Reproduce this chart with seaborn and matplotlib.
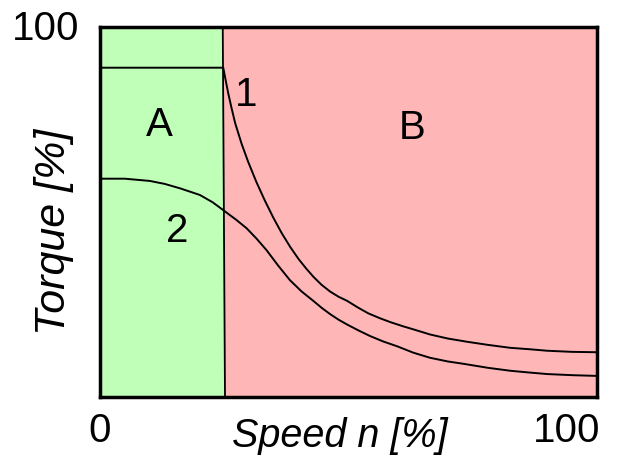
import matplotlib
matplotlib.use("Agg")
import matplotlib.pyplot as plt
import seaborn as sns
import pandas as pd

# Curve 1 (speed %, torque %)
speed_1 = [0, 10, 20, 24.8, 25.3, 25.8, 26.5, 27.2, 28.5, 29.8, 31.5, 33.2, 34.9, 36.6, 38.3, 40.0,
           41.5, 43.0, 44.6, 46.3, 48.0, 49.7, 52.0, 54.0, 56.3, 58.5, 61.0, 63.5, 66.4, 70.0,
           74.0, 78.0, 82.5, 86.5, 90.0, 95.0, 100]
torque_1 = [89, 89, 89, 89, 85.5, 82.1, 77.9, 74.0, 68.4, 63.6, 58.0, 53.0, 48.4, 44.2, 40.5, 37.2,
            34.7, 32.4, 30.3, 28.5, 27.1, 26.0, 24.1, 22.6, 21.3, 20.2, 19.1, 18.1, 16.9, 15.8,
            14.9, 14.1, 13.3, 12.9, 12.5, 12.2, 12.1]

# Curve 2
speed_2 = [0, 5, 10, 13, 16.1, 20.1, 22.7, 25.2, 27.4, 29.5, 31.5, 33.5, 35.8, 38.2, 40.5, 42.9,
           44.6, 46.3, 48.0, 49.7, 52.0, 54.3, 57.0, 59.8, 63.0, 66.4, 70.0, 73.0, 78.0, 82.5,
           86.5, 90.0, 95.0, 100]
torque_2 = [59, 59, 58.4, 57.6, 56.4, 54.6, 52.6, 50.1, 47.9, 45.6, 42.8, 39.7, 35.6, 31.6, 28.6, 26.0,
            24.1, 22.4, 20.9, 19.6, 18.0, 16.5, 15.0, 13.7, 12.0, 10.6, 9.6, 9.0, 7.9, 7.1,
            6.6, 6.2, 5.9, 5.7]

zone_labels = ["A", "B"]
curve_labels = ["1", "2"]
boundary_top = 24.7
boundary_bottom = 25.15

sns.set_theme(style="white")
plt.rcParams['font.family'] = ['Liberation Sans', 'DejaVu Sans']
plt.rcParams['text.color'] = 'black'

fig = plt.figure(figsize=(6.27, 4.62), dpi=100)
ax = fig.add_axes([100/627, 65/462, 497/627, 370/462])

green = "#C0FFB8"
red = "#FFB6B6"
ax.fill([0, boundary_top, boundary_bottom, 0], [100, 100, 0, 0], color=green, zorder=0, lw=0)
ax.fill([boundary_top, 100, 100, boundary_bottom], [100, 100, 0, 0], color=red, zorder=0, lw=0)
ax.plot([boundary_top, boundary_bottom], [100, 0], color="black", lw=1.3, zorder=2)

df1 = pd.DataFrame({"speed": speed_1, "torque": torque_1})
df2 = pd.DataFrame({"speed": speed_2, "torque": torque_2})
sns.lineplot(data=df1, x="speed", y="torque", ax=ax, color="black", lw=1.4, sort=False, zorder=3)
sns.lineplot(data=df2, x="speed", y="torque", ax=ax, color="black", lw=1.4, sort=False, zorder=3)

ax.set_xlim(0, 100)
ax.set_ylim(0, 100)
ax.set_xticks([])
ax.set_yticks([])
ax.set_xlabel("")
ax.set_ylabel("")
for s in ax.spines.values():
    s.set_visible(True)
    s.set_color("black")
    s.set_linewidth(2.5)

fs = 29
ax.text(12, 73.5, zone_labels[0], fontsize=fs, ha="center", va="center")
ax.text(62.8, 72.7, zone_labels[1], fontsize=fs, ha="center", va="center")
ax.text(29.4, 81.6, curve_labels[0], fontsize=fs, ha="center", va="center")
ax.text(15.5, 45, curve_labels[1], fontsize=fs, ha="center", va="center")

fig.text(79/627, 1 - 29/462, "100", fontsize=fs, ha="right", va="center")
fig.text(100/627, 1 - 431/462, "0", fontsize=fs, ha="center", va="center")
fig.text(600/627, 1 - 431/462, "100", fontsize=fs, ha="right", va="center")
fig.text(340/627, 1 - 436/462, "Speed n [%]", fontsize=28.5, style="italic", ha="center", va="center")
fig.text(54/627, 1 - 232/462, "Torque [%]", fontsize=31, style="italic", ha="center", va="center",
         rotation=90)

fig.savefig("out.png", dpi=100)
